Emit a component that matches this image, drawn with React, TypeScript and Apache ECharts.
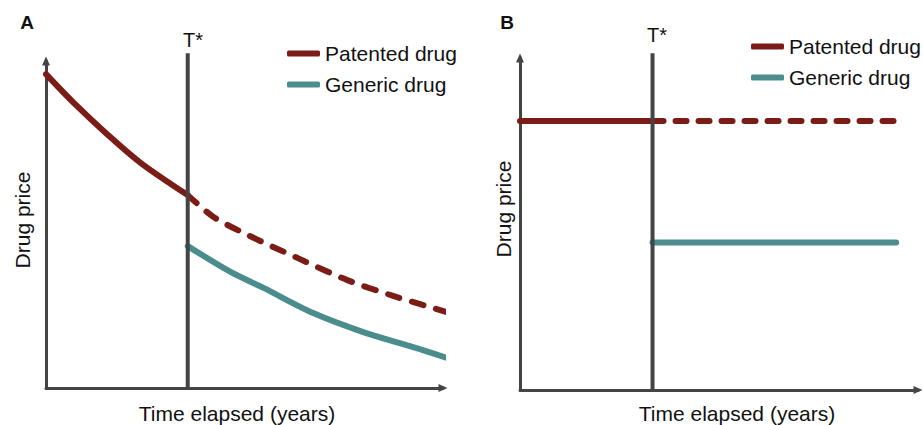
import React, { useEffect, useRef } from "react";
import * as echarts from "echarts";

// Panel A (time in % of horizon, price in % of axis height)
const tStarA = 35.7;
const patentedA_x = [0, 7.0, 15.6, 23.9, 35.7];
const patentedA_y = [96.0, 87.2, 77.4, 68.8, 59.0];
const patentedAfterA_x = [35.7, 42.2, 50.8, 63.3, 75.9, 88.4, 101];
const patentedAfterA_y = [59.0, 52.3, 46.8, 39.8, 33.0, 27.8, 23.2];
const genericA_x = [35.7, 46.5, 54.8, 67.3, 79.9, 92.5, 101];
const genericA_y = [43.4, 35.5, 30.6, 22.9, 17.1, 12.5, 9.2];

// Panel B
const tStarB = 33.3;
const patentedB_x = [0, 33.3];
const patentedB_y = [81.0, 81.0];
const patentedAfterB_x = [33.3, 94.5];
const patentedAfterB_y = [81.0, 81.0];
const genericB_x = [33.3, 94.5];
const genericB_y = [44.4, 44.4];

const tStarTopA = 102.4;
const tStarTopB = 101.4;

const legendNames = ["Patented drug", "Generic drug"];

const RED = "#7b1c17";
const TEAL = "#4a8d8c";
const AXIS = "#444444";
const FONT = "'Liberation Sans', Arial, Helvetica, sans-serif";

const zip = (xs: number[], ys: number[]) => xs.map((x, i) => [x, ys[i]]);

export default function App() {
  const ref = useRef<HTMLDivElement>(null);
  useEffect(() => {
    if (!ref.current) return;
    const chart = echarts.init(ref.current, null, { renderer: "svg" });

    const axisLineX = (sym: number[]) => ({
      show: true,
      onZero: false,
      symbol: ["none", "triangle"],
      symbolSize: sym,
      lineStyle: { color: AXIS, width: 3 },
    });

    const mkX = (gi: number) => ({
      type: "value",
      gridIndex: gi,
      min: 0,
      max: 100,
      axisLine: axisLineX([8, 9]),
      axisTick: { show: false },
      axisLabel: { show: false },
      splitLine: { show: false },
    });
    const mkY = (gi: number) => ({
      type: "value",
      gridIndex: gi,
      min: 0,
      max: 100,
      axisLine: axisLineX([8, 9]),
      axisTick: { show: false },
      axisLabel: { show: false },
      splitLine: { show: false },
    });

    const lineSeries = (
      name: string,
      gi: number,
      data: number[][],
      color: string,
      opts: any = {}
    ) => ({
      type: "line",
      name,
      xAxisIndex: gi,
      yAxisIndex: gi,
      data,
      color,
      showSymbol: false,
      symbol: "none",
      clip: false,
      smooth: opts.smooth ?? 0,
      lineStyle: {
        color,
        width: opts.width ?? 6,
        type: opts.dash ?? "solid",
        cap: opts.cap ?? "round",
      },
      z: opts.z ?? 3,
      silent: true,
    });

    const textEl = (
      text: string,
      x: number,
      y: number,
      size: number,
      extra: any = {}
    ) => ({
      type: "text",
      x,
      y,
      rotation: extra.rotation ?? 0,
      style: {
        text,
        fontFamily: FONT,
        fontSize: size,
        fontWeight: extra.bold ? "bold" : "normal",
        fill: "#111111",
        align: "center",
        verticalAlign: "middle",
      },
    });

    const legendBase = {
      orient: "vertical",
      icon: "roundRect",
      itemWidth: 33,
      itemHeight: 6,
      itemGap: 10,
      padding: 0,
      data: legendNames,
      selectedMode: false,
      textStyle: { fontFamily: FONT, fontSize: 21, color: "#111111", lineHeight: 21 },
    };

    chart.setOption({
      animation: false,
      backgroundColor: "#ffffff",
      grid: [
        { left: 46, right: 480, top: 61, bottom: 37 },
        { left: 520, right: 5, top: 58, bottom: 35 },
      ],
      xAxis: [mkX(0), mkX(1)],
      yAxis: [mkY(0), mkY(1)],
      legend: [
        { ...legendBase, left: 287, top: 43 },
        { ...legendBase, left: 751, top: 36 },
      ],
      series: [
        lineSeries("Patented drug", 0, zip(patentedA_x, patentedA_y), RED, { smooth: 0.3 }),
        lineSeries("Patented drug", 0, zip(patentedAfterA_x, patentedAfterA_y), RED, {
          smooth: 0.3,
          dash: [12, 13],
        }),
        lineSeries("Generic drug", 0, zip(genericA_x, genericA_y), TEAL, { smooth: 0.3 }),
        lineSeries("T* A", 0, [[tStarA, 0], [tStarA, tStarTopA]], AXIS, {
          width: 4,
          cap: "butt",
          z: 4,
        }),
        lineSeries("Patented drug", 1, zip(patentedB_x, patentedB_y), RED),
        lineSeries("Patented drug", 1, zip(patentedAfterB_x, patentedAfterB_y), RED, {
          dash: [11, 12],
        }),
        lineSeries("Generic drug", 1, zip(genericB_x, genericB_y), TEAL),
        lineSeries("T* B", 1, [[tStarB, 0], [tStarB, tStarTopB]], AXIS, {
          width: 4,
          cap: "butt",
          z: 4,
        }),
      ],
      graphic: [
        textEl("A", 27, 22, 19, { bold: true }),
        textEl("B", 507, 22, 19, { bold: true }),
        textEl("T*", 193, 40, 20),
        textEl("T*", 657, 35, 20),
        textEl("Time elapsed (years)", 237, 413, 21),
        textEl("Time elapsed (years)", 737, 413, 21),
        textEl("Drug price", 22, 220, 21, { rotation: Math.PI / 2 }),
        textEl("Drug price", 503, 209, 21, { rotation: Math.PI / 2 }),
      ],
    });

    return () => chart.dispose();
  }, []);

  return (
    <div
      ref={ref}
      style={{ position: "absolute", left: 0, top: 0, width: 923, height: 425 }}
    />
  );
}
